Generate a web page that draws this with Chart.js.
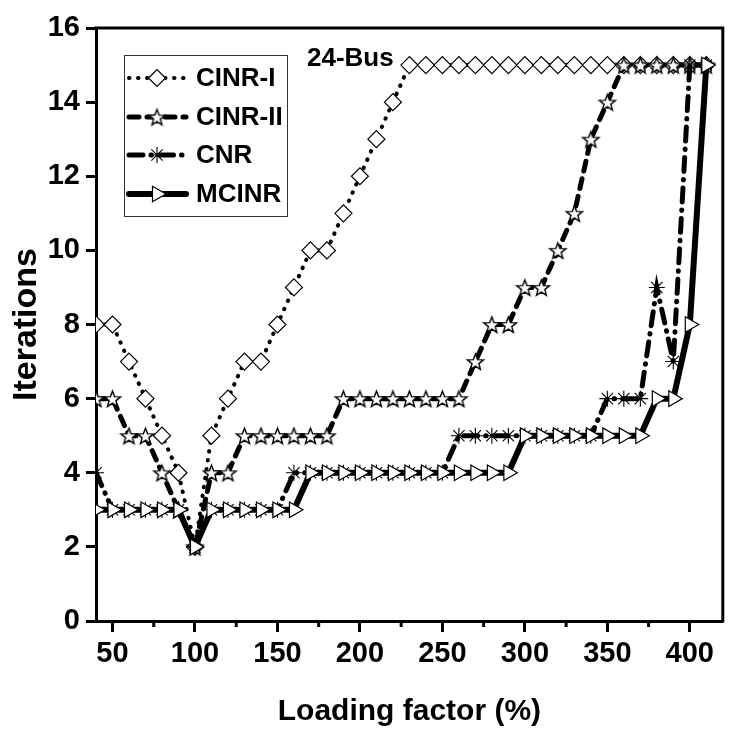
<!DOCTYPE html>
<html>
<head>
<meta charset="utf-8">
<script src="https://cdn.jsdelivr.net/npm/chart.js@4.4.0/dist/chart.umd.min.js"></script>
<style>
  html, body { margin: 0; padding: 0; background: #fff; }
  #wrap { width: 733px; height: 731px; }
</style>
</head>
<body>
<div id="wrap"><canvas id="chart"></canvas></div>
<script>
// loading factor (%) on the x axis
const loading = [40, 50, 60, 70, 80, 90, 100, 110, 120, 130, 140, 150, 160, 170, 180, 190, 200,
  210, 220, 230, 240, 250, 260, 270, 280, 290, 300, 310, 320, 330, 340, 350, 360, 370, 380, 390, 400, 410];

// iterations for each method
const cinr1 = [8, 8, 7, 6, 5, 4, 2, 5, 6, 7, 7, 8, 9, 10, 10, 11, 12, 13, 14,
  15, 15, 15, 15, 15, 15, 15, 15, 15, 15, 15, 15, 15, 15, 15, 15, 15, 15, 15];
const cinr2 = [6, 6, 5, 5, 4, 3, 2, 4, 4, 5, 5, 5, 5, 5, 5, 6, 6, 6, 6,
  6, 6, 6, 6, 7, 8, 8, 9, 9, 10, 11, 13, 14, 15, 15, 15, 15, 15, 15];
const cnr = [4, 3, 3, 3, 3, 3, 2, 3, 3, 3, 3, 3, 4, 4, 4, 4, 4, 4, 4,
  4, 4, 4, 5, 5, 5, 5, 5, 5, 5, 5, 5, 6, 6, 6, 9, 7, 15, 15];
const mcinr = [3, 3, 3, 3, 3, 3, 2, 3, 3, 3, 3, 3, 3, 4, 4, 4, 4, 4, 4,
  4, 4, 4, 4, 4, 4, 4, 5, 5, 5, 5, 5, 5, 5, 5, 6, 6, 8, 15];

const seriesNames = ['CINR-I', 'CINR-II', 'CNR', 'MCINR'];
const xTicks = [50, 100, 150, 200, 250, 300, 350, 400];
const xMinorTicks = [75, 125, 175, 225, 275, 325, 375];

// open five-point star marker
function makeStar(outer, inner) {
    const c = document.createElement('canvas');
    const s = Math.ceil(outer * 2 + 4);
    c.width = s; c.height = s;
    const g = c.getContext('2d');
    g.beginPath();
    for (let i = 0; i < 10; i++) {
        const r = i % 2 === 0 ? outer : inner;
        const a = -Math.PI / 2 + i * Math.PI / 5;
        const px = s / 2 + r * Math.cos(a);
        const py = s / 2 + 1 + r * Math.sin(a);
        if (i === 0) g.moveTo(px, py); else g.lineTo(px, py);
    }
    g.closePath();
    g.fillStyle = '#fff';
    g.fill();
    g.lineWidth = 1.4;
    g.lineJoin = 'miter';
    g.strokeStyle = '#000';
    g.stroke();
    return c;
}
const starImg = makeStar(8.5, 3.6);

function pts(ys) {
    return loading.map((x, i) => ({ x: x, y: ys[i] }));
}

const datasets = [
    {
        label: seriesNames[0], data: pts(cinr1), order: 4,
        borderColor: '#000', borderWidth: 4, borderDash: [0.5, 8.5], borderCapStyle: 'round',
        pointStyle: 'rectRot', pointRadius: 8.5, pointBorderWidth: 1.2,
        pointBackgroundColor: '#fff', pointBorderColor: '#000', pointRotation: 0
    },
    {
        label: seriesNames[1], data: pts(cinr2), order: 3,
        borderColor: '#000', borderWidth: 5, borderDash: [10, 8], borderCapStyle: 'round',
        pointStyle: starImg, pointRadius: 8, pointBorderWidth: 1,
        pointBackgroundColor: '#fff', pointBorderColor: '#000', pointRotation: 0
    },
    {
        label: seriesNames[2], data: pts(cnr), order: 2,
        borderColor: '#000', borderWidth: 5, borderDash: [14, 8, 0.5, 8], borderCapStyle: 'round',
        pointStyle: 'star', pointRadius: 8, pointBorderWidth: 1.1,
        pointBackgroundColor: '#fff', pointBorderColor: '#000', pointRotation: 0
    },
    {
        label: seriesNames[3], data: pts(mcinr), order: 1,
        borderColor: '#000', borderWidth: 6, borderDash: [],
        pointStyle: 'triangle', pointRadius: 9, pointBorderWidth: 1.2,
        pointBackgroundColor: '#fff', pointBorderColor: '#000', pointRotation: 90
    }
];

const frameAndLegend = {
    id: 'frameAndLegend',
    afterDraw(chart) {
        const ctx = chart.ctx;
        const a = chart.chartArea;
        const xs = chart.scales.x;
        ctx.save();
        // top and right frame
        ctx.strokeStyle = '#000';
        ctx.lineWidth = 3;
        ctx.beginPath();
        ctx.moveTo(a.left - 1.5, a.top);
        ctx.lineTo(a.right, a.top);
        ctx.lineTo(a.right, a.bottom + 1.5);
        ctx.stroke();
        // minor x ticks
        ctx.lineWidth = 3;
        xMinorTicks.forEach(v => {
            const px = xs.getPixelForValue(v);
            ctx.beginPath();
            ctx.moveTo(px, a.bottom);
            ctx.lineTo(px, a.bottom + 6);
            ctx.stroke();
        });

        // annotation
        ctx.fillStyle = '#000';
        ctx.font = 'bold 26px "Liberation Sans", Arial, sans-serif';
        ctx.textBaseline = 'middle';
        ctx.textAlign = 'left';
        ctx.fillText('24-Bus', 307, 59);

        // legend box
        ctx.lineWidth = 1;
        ctx.strokeStyle = '#333';
        ctx.strokeRect(124.5, 55.5, 163, 161);
        const rows = [78, 117, 155, 194];
        chart.data.datasets.forEach((ds, i) => {
            const y = rows[i];
            ctx.save();
            ctx.strokeStyle = '#000';
            ctx.lineWidth = ds.borderWidth;
            ctx.lineCap = 'round';
            ctx.setLineDash(ds.borderDash || []);
            ctx.beginPath();
            ctx.moveTo(129, y);
            ctx.lineTo(186, y);
            ctx.stroke();
            ctx.restore();
            ctx.save();
            ctx.fillStyle = '#fff';
            ctx.strokeStyle = '#000';
            ctx.lineWidth = ds.pointBorderWidth;
            Chart.helpers.drawPoint(ctx, {
                pointStyle: ds.pointStyle, radius: ds.pointRadius,
                rotation: ds.pointRotation, borderWidth: ds.pointBorderWidth
            }, 157, y);
            ctx.restore();
            ctx.fillStyle = '#000';
            ctx.font = 'bold 26px "Liberation Sans", Arial, sans-serif';
            ctx.fillText(ds.label, 196, y + 1);
        });
        ctx.restore();
    }
};

new Chart(document.getElementById('chart'), {
    type: 'line',
    data: { datasets: datasets },
    options: {
        responsive: true,
        maintainAspectRatio: false,
        animation: false,
        layout: { padding: { left: 0, right: 4, top: 28, bottom: 0 } },
        plugins: { legend: { display: false }, tooltip: { enabled: false } },
        elements: { line: { tension: 0, fill: false } },
        datasets: { line: { clip: 0 } },
        scales: {
            x: {
                type: 'linear',
                min: 40, max: 420,
                afterBuildTicks: s => { s.ticks = xTicks.map(v => ({ value: v })); },
                afterFit: s => { s.height = 110; },
                border: { display: true, color: '#000', width: 3 },
                grid: { drawOnChartArea: false, color: '#000', tickLength: 11, tickWidth: 3, tickColor: '#000' },
                ticks: {
                    color: '#000', padding: 5, maxRotation: 0,
                    font: { family: '"Liberation Sans", Arial, sans-serif', size: 29, weight: 'bold' }
                },
                title: {
                    display: true, text: 'Loading factor (%)', color: '#000',
                    padding: { top: 0, bottom: 1 },
                    font: { family: '"Liberation Sans", Arial, sans-serif', size: 30, weight: 'bold' }
                }
            },
            y: {
                min: 0, max: 16,
                afterFit: s => { s.width = 96; },
                border: { display: true, color: '#000', width: 3 },
                grid: { drawOnChartArea: false, color: '#000', tickLength: 10, tickWidth: 3, tickColor: '#000' },
                ticks: {
                    stepSize: 2, color: '#000', padding: 6,
                    font: { family: '"Liberation Sans", Arial, sans-serif', size: 29, weight: 'bold' }
                },
                title: {
                    display: true, text: 'Iterations', color: '#000',
                    padding: { top: 6, bottom: 0 },
                    font: { family: '"Liberation Sans", Arial, sans-serif', size: 34, weight: 'bold' }
                }
            }
        }
    },
    plugins: [frameAndLegend]
});
</script>
</body>
</html>
